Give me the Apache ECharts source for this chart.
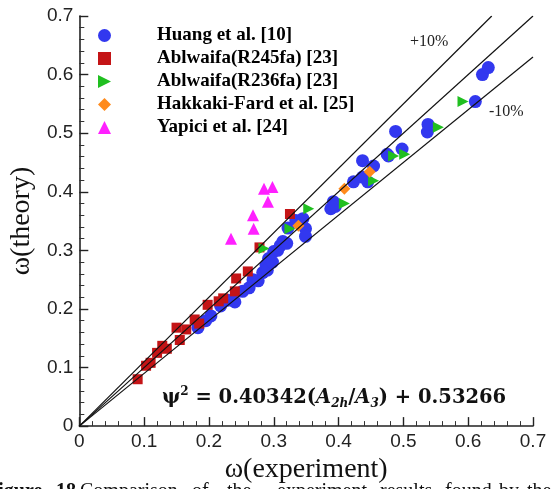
<!DOCTYPE html>
<html>
<head>
<meta charset="utf-8">
<script src="https://cdn.jsdelivr.net/npm/echarts@6/dist/echarts.min.js"></script>
<style>
  html, body { margin: 0; padding: 0; background: #fff; overflow: hidden; }
  #chart { width: 552px; height: 489px; }
</style>
</head>
<body>
<div id="chart"></div>
<script>
// Measured vs. predicted frequency ratio, one [experiment, theory] pair per point
const huang = [
  [0.183, 0.168], [0.195, 0.180], [0.203, 0.188], [0.218, 0.205], [0.229, 0.215],
  [0.240, 0.212], [0.252, 0.230], [0.262, 0.236], [0.268, 0.250], [0.276, 0.248],
  [0.283, 0.262], [0.288, 0.275], [0.290, 0.266], [0.292, 0.286], [0.298, 0.280],
  [0.300, 0.298], [0.306, 0.300], [0.310, 0.308], [0.314, 0.315], [0.320, 0.312],
  [0.322, 0.338], [0.334, 0.351], [0.345, 0.354], [0.349, 0.337], [0.349, 0.324],
  [0.388, 0.371], [0.392, 0.383], [0.395, 0.375], [0.423, 0.417], [0.437, 0.425],
  [0.437, 0.453], [0.445, 0.417], [0.454, 0.444], [0.475, 0.464], [0.477, 0.461],
  [0.488, 0.503], [0.498, 0.473], [0.537, 0.502], [0.538, 0.515], [0.611, 0.554],
  [0.622, 0.600], [0.631, 0.612]
];
const ablwaifaR245fa = [
  [0.090, 0.080], [0.103, 0.103], [0.110, 0.108], [0.120, 0.125], [0.128, 0.137],
  [0.135, 0.132], [0.150, 0.168], [0.155, 0.147], [0.165, 0.165], [0.178, 0.182],
  [0.185, 0.175], [0.198, 0.207], [0.215, 0.213], [0.222, 0.218], [0.240, 0.230],
  [0.242, 0.252], [0.260, 0.264], [0.278, 0.305], [0.325, 0.362]
];
const ablwaifaR236fa = [
  [0.285, 0.303], [0.325, 0.337], [0.354, 0.371], [0.409, 0.380], [0.454, 0.419],
  [0.485, 0.461], [0.502, 0.464], [0.554, 0.510], [0.592, 0.554]
];
const hakkakiFard = [
  [0.338, 0.342], [0.409, 0.405], [0.448, 0.434]
];
const yapici = [
  [0.234, 0.320], [0.268, 0.360], [0.269, 0.337], [0.291, 0.383], [0.285, 0.405],
  [0.298, 0.408]
];

const seriesNames = [
  'Huang et al. [10]',
  'Ablwaifa(R245fa) [23]',
  'Ablwaifa(R236fa) [23]',
  'Hakkaki-Fard et al. [25]',
  'Yapici et al. [24]'
];

// Reference lines: perfect agreement and the ±10% band
const bandFactors = [1.0, 1.1, 0.9];
const axisMax = 0.7;
const tickLabels = ['0', '0.1', '0.2', '0.3', '0.4', '0.5', '0.6', '0.7'];

// Caption words underneath the plot (only their upper part falls inside the page)
const captionWords = [
  ['Figure', -14, true], ['18.', 56, true], ['Comparison', 80, false], ['of', 192, false],
  ['the', 227, false], ['experiment', 277, false], ['results', 380, false],
  ['found', 445, false], ['by', 499, false], ['the', 527, false]
];

const rightTriangle = 'path://M0,0 L10,5 L0,10 Z';

function bandLine(k) {
  const xEnd = Math.min(axisMax, axisMax / k);
  return {
    type: 'line',
    data: [[0, 0], [xEnd, xEnd * k]],
    showSymbol: false,
    silent: true,
    z: 10,
    lineStyle: { color: '#111', width: 1.2 },
    animation: false
  };
}

function tickText(v) {
  const i = Math.round(v * 10);
  return tickLabels[i] !== undefined ? tickLabels[i] : '';
}

const axisCommon = {
  type: 'value',
  min: 0,
  max: axisMax,
  interval: 0.1,
  splitLine: { show: false },
  axisLine: { lineStyle: { color: '#222', width: 1.6 } },
  axisTick: { inside: true, length: 9, lineStyle: { color: '#222', width: 1.4 } },
  minorTick: { show: true, splitNumber: 5, length: 5, lineStyle: { color: '#333', width: 1 } },
  axisLabel: {
    formatter: tickText,
    color: '#222',
    fontFamily: 'Liberation Sans',
    fontSize: 19,
    margin: 6
  },
  nameLocation: 'middle',
  nameTextStyle: { fontFamily: 'Liberation Serif', fontSize: 28, color: '#111' }
};

const eqFont = 'DejaVu Serif';
const equation = {
  type: 'text', left: 162, top: 386,
  style: {
    text: '{b|ψ}{sup|2}{b| = 0.40342(}{i|A}{sub|2h}{b|/}{i|A}{sub|3}{b|) + 0.53266}',
    rich: {
      b: { fontFamily: eqFont, fontWeight: 'bold', fontSize: 19.5, lineHeight: 24, fill: '#111', verticalAlign: 'middle' },
      i: { fontFamily: eqFont, fontWeight: 'bold', fontStyle: 'italic', fontSize: 19.5, lineHeight: 24, fill: '#111', verticalAlign: 'middle' },
      sup: { fontFamily: eqFont, fontWeight: 'bold', fontSize: 12, lineHeight: 12, fill: '#111', verticalAlign: 'top' },
      sub: { fontFamily: eqFont, fontWeight: 'bold', fontStyle: 'italic', fontSize: 12, lineHeight: 12, fill: '#111', verticalAlign: 'bottom' }
    }
  }
};

const caption = captionWords.map(function (w) {
  return {
    type: 'text', left: w[1], top: 482,
    style: {
      text: w[0], fontFamily: 'Liberation Serif', fontSize: 20,
      fontWeight: w[2] ? 'bold' : 'normal', fill: '#111'
    }
  };
});

const chart = echarts.init(document.getElementById('chart'), null, { renderer: 'canvas' });

chart.setOption({
  animation: false,
  backgroundColor: '#fff',
  grid: { left: 78, right: 19, top: 16, bottom: 60 },
  xAxis: Object.assign({}, axisCommon, { name: 'ω(experiment)', nameGap: 26 }),
  yAxis: Object.assign({}, axisCommon, { name: 'ω(theory)', nameGap: 28 }),
  legend: {
    orient: 'vertical',
    left: 93,
    top: 21,
    itemWidth: 13,
    itemHeight: 13,
    itemGap: 4,
    data: seriesNames,
    textStyle: {
      fontFamily: 'Liberation Serif',
      fontWeight: 'bold',
      fontSize: 19,
      color: '#000',
      padding: [0, 0, 0, 41]
    }
  },
  series: [
    { name: seriesNames[0], type: 'scatter', data: huang, symbol: 'circle', symbolSize: 13,
      itemStyle: { color: '#3238ef', opacity: 1 }, z: 2 },
    { name: seriesNames[1], type: 'scatter', data: ablwaifaR245fa, symbol: 'rect', symbolSize: 10,
      itemStyle: { color: '#c41416', opacity: 1 }, z: 3 },
    { name: seriesNames[2], type: 'scatter', data: ablwaifaR236fa, symbol: rightTriangle, symbolSize: 11,
      itemStyle: { color: '#20bf20', opacity: 1 }, z: 4 },
    { name: seriesNames[3], type: 'scatter', data: hakkakiFard, symbol: 'diamond', symbolSize: 12,
      itemStyle: { color: '#ff8a1c', opacity: 1 }, z: 5 },
    { name: seriesNames[4], type: 'scatter', data: yapici, symbol: 'triangle', symbolSize: 12,
      itemStyle: { color: '#ff20ff', opacity: 1 }, z: 6 },
    bandLine(bandFactors[0]),
    bandLine(bandFactors[1]),
    bandLine(bandFactors[2])
  ],
  graphic: [
    { type: 'text', left: 410, top: 34,
      style: { text: '+10%', fontFamily: 'Liberation Serif', fontSize: 16, fill: '#222' } },
    { type: 'text', left: 489, top: 104,
      style: { text: '-10%', fontFamily: 'Liberation Serif', fontSize: 16, fill: '#222' } },
    equation
  ].concat(caption)
});
</script>
</body>
</html>
